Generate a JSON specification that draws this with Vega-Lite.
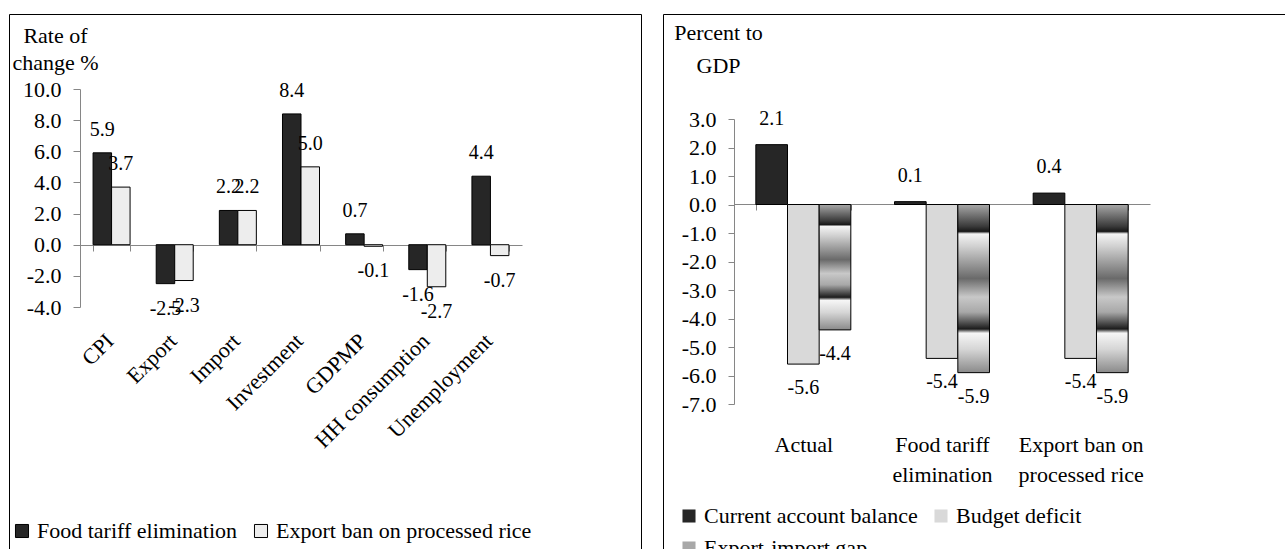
{
  "$schema": "https://vega.github.io/schema/vega-lite/v6.json",
  "padding": {"left": 0, "top": 13, "right": 0, "bottom": 0},
  "background": "white",
  "spacing": 22,
  "bounds": "flush",
  "resolve": {"scale": {"fill": "independent", "xOffset": "independent", "x": "independent", "y": "independent"}, "legend": {"fill": "independent"}},
  "config": {
    "font": "Liberation Serif",
    "locale": {"number": {"decimal": ".", "thousands": ",", "grouping": [3], "currency": ["$", ""], "minus": "-"}},
    "view": {"stroke": "#000000", "strokeWidth": 1},
    "axis": {"labelFont": "Liberation Serif", "titleFont": "Liberation Serif", "labelColor": "#000000", "titleColor": "#000000", "labelFontSize": 22, "titleFontSize": 22, "titleFontWeight": "normal", "grid": false, "tickColor": "#868686", "domainColor": "#868686"},
    "legend": {"labelFont": "Liberation Serif", "labelFontSize": 22, "labelColor": "#000000", "labelLimit": 0, "padding": 0},
    "text": {"font": "Liberation Serif", "fontSize": 20, "color": "#000000"}
  },
  "hconcat": [
    {
      "width": 632,
      "height": 536,
      "data": {"values": [
        {"cat": "CPI", "series": "Food tariff elimination", "value": 5.9},
        {"cat": "CPI", "series": "Export ban on processed rice", "value": 3.7},
        {"cat": "Export", "series": "Food tariff elimination", "value": -2.5},
        {"cat": "Export", "series": "Export ban on processed rice", "value": -2.3},
        {"cat": "Import", "series": "Food tariff elimination", "value": 2.2},
        {"cat": "Import", "series": "Export ban on processed rice", "value": 2.2},
        {"cat": "Investment", "series": "Food tariff elimination", "value": 8.4},
        {"cat": "Investment", "series": "Export ban on processed rice", "value": 5.0},
        {"cat": "GDPMP", "series": "Food tariff elimination", "value": 0.7},
        {"cat": "GDPMP", "series": "Export ban on processed rice", "value": -0.1},
        {"cat": "HH consumption", "series": "Food tariff elimination", "value": -1.6},
        {"cat": "HH consumption", "series": "Export ban on processed rice", "value": -2.7},
        {"cat": "Unemployment", "series": "Food tariff elimination", "value": 4.4},
        {"cat": "Unemployment", "series": "Export ban on processed rice", "value": -0.7}
      ]},
      "encoding": {
        "x": {"field": "cat", "type": "nominal", "sort": null,
          "scale": {"range": [71, 513], "paddingInner": 0.414, "paddingOuter": 0.207},
          "axis": {"orient": "bottom", "offset": -305, "domain": true, "tickBand": "extent", "tickSize": 6, "labelAngle": -45, "labelAlign": "right", "labelBaseline": "middle", "labelPadding": 86, "labelOffset": -2, "title": null, "labelFont": "Liberation Serif"}
        },
        "y": {"field": "value", "type": "quantitative",
          "scale": {"domain": [-4, 10], "range": [293, 75], "nice": false, "zero": false},
          "axis": {"values": [-4, -2, 0, 2, 4, 6, 8, 10], "format": ".1f", "offset": -71, "domain": true, "tickSize": 7, "labelPadding": 12, "labelFont": "Liberation Serif", "titleFont": "Liberation Serif",
            "title": ["Rate of", "change %"], "titleAngle": 0, "titleX": -25, "titleY": 28, "titleAlign": "center", "titleBaseline": "alphabetic", "titleLineHeight": 27}
        },
        "xOffset": {"field": "series", "type": "nominal", "sort": ["Food tariff elimination", "Export ban on processed rice"], "scale": {"paddingInner": 0, "paddingOuter": 0}}
      },
      "layer": [
        {
          "mark": {"type": "bar", "stroke": "#000000", "strokeWidth": 1},
          "encoding": {
            "y2": {"datum": 0},
            "fill": {"field": "series", "type": "nominal",
              "scale": {"domain": ["Food tariff elimination", "Export ban on processed rice"], "range": ["#262626", "#EDEDED"]},
              "legend": {"orient": "none", "legendX": 2, "legendY": 506, "direction": "horizontal", "title": null, "symbolType": "square", "symbolSize": 170, "symbolStrokeColor": "#000000", "symbolStrokeWidth": 1, "columnPadding": 12, "labelOffset": 4, "labelFont": "Liberation Serif", "labelLimit": 0}
            }
          }
        },
        {
          "transform": [{"filter": "datum.value >= 0"}],
          "mark": {"type": "text", "baseline": "middle", "dy": -23, "font": "Liberation Serif", "fontSize": 20},
          "encoding": {
            "text": {"field": "value", "type": "quantitative", "format": ".1f"}
          }
        },
        {
          "transform": [{"filter": "datum.value < 0"}],
          "mark": {"type": "text", "baseline": "middle", "dy": 25, "font": "Liberation Serif", "fontSize": 20},
          "encoding": {
            "text": {"field": "value", "type": "quantitative", "format": ".1f"}
          }
        }
      ]
    },
    {
      "width": 622,
      "height": 536,
      "data": {"values": [
        {"cat": "Actual", "series": "Current account balance", "value": 2.1},
        {"cat": "Actual", "series": "Budget deficit", "value": -5.6},
        {"cat": "Actual", "series": "Export-import gap", "value": -4.4},
        {"cat": "Food tariff elimination", "series": "Current account balance", "value": 0.1},
        {"cat": "Food tariff elimination", "series": "Budget deficit", "value": -5.4},
        {"cat": "Food tariff elimination", "series": "Export-import gap", "value": -5.9},
        {"cat": "Export ban on processed rice", "series": "Current account balance", "value": 0.4},
        {"cat": "Export ban on processed rice", "series": "Budget deficit", "value": -5.4},
        {"cat": "Export ban on processed rice", "series": "Export-import gap", "value": -5.9}
      ]},
      "encoding": {
        "x": {"field": "cat", "type": "nominal", "sort": null,
          "scale": {"range": [71, 487], "paddingInner": 0.315, "paddingOuter": 0.1575},
          "axis": {"orient": "bottom", "offset": -346, "domain": true, "tickBand": "extent", "tickSize": 6, "labelAngle": 0, "labelAlign": "center", "labelBaseline": "top", "labelPadding": 224, "labelLineHeight": 30, "title": null, "labelFont": "Liberation Serif",
            "labelExpr": "datum.value == 'Food tariff elimination' ? ['Food tariff', 'elimination'] : datum.value == 'Export ban on processed rice' ? ['Export ban on', 'processed rice'] : datum.value"}
        },
        "y": {"field": "value", "type": "quantitative",
          "scale": {"domain": [-7, 3], "range": [390, 105], "nice": false, "zero": false},
          "axis": {"values": [-7, -6, -5, -4, -3, -2, -1, 0, 1, 2, 3], "format": ".1f", "offset": -71, "domain": true, "tickSize": 6, "labelPadding": 12, "labelFont": "Liberation Serif", "titleFont": "Liberation Serif",
            "title": ["Percent to", "GDP"], "titleAngle": 0, "titleX": -16, "titleY": 25, "titleAlign": "center", "titleBaseline": "alphabetic", "titleLineHeight": 33}
        },
        "xOffset": {"field": "series", "type": "nominal", "sort": ["Current account balance", "Budget deficit", "Export-import gap"], "scale": {"domain": ["Current account balance", "Budget deficit", "Export-import gap"], "paddingInner": 0, "paddingOuter": 0}}
      },
      "layer": [
        {
          "transform": [{"filter": "datum.series != 'Export-import gap'"}],
          "mark": {"type": "bar", "stroke": "#000000", "strokeWidth": 1},
          "encoding": {
            "y2": {"datum": 0},
            "fill": {"field": "series", "type": "nominal",
              "scale": {"domain": ["Current account balance", "Budget deficit", "Export-import gap"], "range": ["#262626", "#D9D9D9", "#A8A8A8"]},
              "legend": {"orient": "none", "legendX": 15, "legendY": 491, "direction": "horizontal", "columns": 2, "title": null, "symbolType": "square", "symbolSize": 170, "symbolStrokeColor": "#000000", "symbolStrokeWidth": 1, "columnPadding": 12, "rowPadding": 10, "labelOffset": 4, "labelFont": "Liberation Serif", "labelLimit": 0,
                "values": ["Current account balance", "Budget deficit", "Export-import gap"],
                "encode": {"symbols": {"update": {"fill": [
                  {"test": "datum.value === 'Export-import gap'", "value": {"gradient": "linear", "x1": 0, "y1": 0, "x2": 0, "y2": 1, "stops": [{"offset": 0, "color": "#555555"}, {"offset": 0.2, "color": "#f0f0f0"}, {"offset": 0.35, "color": "#555555"}, {"offset": 0.5, "color": "#f0f0f0"}, {"offset": 0.65, "color": "#555555"}, {"offset": 0.8, "color": "#f0f0f0"}, {"offset": 1, "color": "#555555"}]}},
                  {"test": "datum.value === 'Budget deficit'", "value": "#D9D9D9"},
                  {"value": "#262626"}
                ]}}}
              }
            }
          }
        },
        {
          "transform": [{"filter": "datum.series == 'Export-import gap'"}],
          "mark": {"type": "bar", "stroke": "#000000", "strokeWidth": 1,
            "fill": {"gradient": "linear", "x1": 0, "y1": 0, "x2": 0, "y2": 1, "stops": [{"offset": 0, "color": "#a8a8a8"}, {"offset": 0.13, "color": "#3a3a3a"}, {"offset": 0.16, "color": "#181818"}, {"offset": 0.175, "color": "#f4f4f4"}, {"offset": 0.25, "color": "#d0d0d0"}, {"offset": 0.44, "color": "#6a6a6a"}, {"offset": 0.55, "color": "#c8c8c8"}, {"offset": 0.64, "color": "#a8a8a8"}, {"offset": 0.74, "color": "#1c1c1c"}, {"offset": 0.765, "color": "#f6f6f6"}, {"offset": 0.86, "color": "#d6d6d6"}, {"offset": 1, "color": "#8a8a8a"}]}},
          "encoding": {
            "y2": {"datum": 0}
          }
        },
        {
          "transform": [{"filter": "datum.value >= 0"}],
          "mark": {"type": "text", "baseline": "middle", "dy": -26, "font": "Liberation Serif", "fontSize": 20},
          "encoding": {
            "text": {"field": "value", "type": "quantitative", "format": ".1f"}
          }
        },
        {
          "transform": [{"filter": "datum.value < 0"}],
          "mark": {"type": "text", "baseline": "middle", "dy": 24, "font": "Liberation Serif", "fontSize": 20},
          "encoding": {
            "text": {"field": "value", "type": "quantitative", "format": ".1f"}
          }
        }
      ]
    }
  ]
}
